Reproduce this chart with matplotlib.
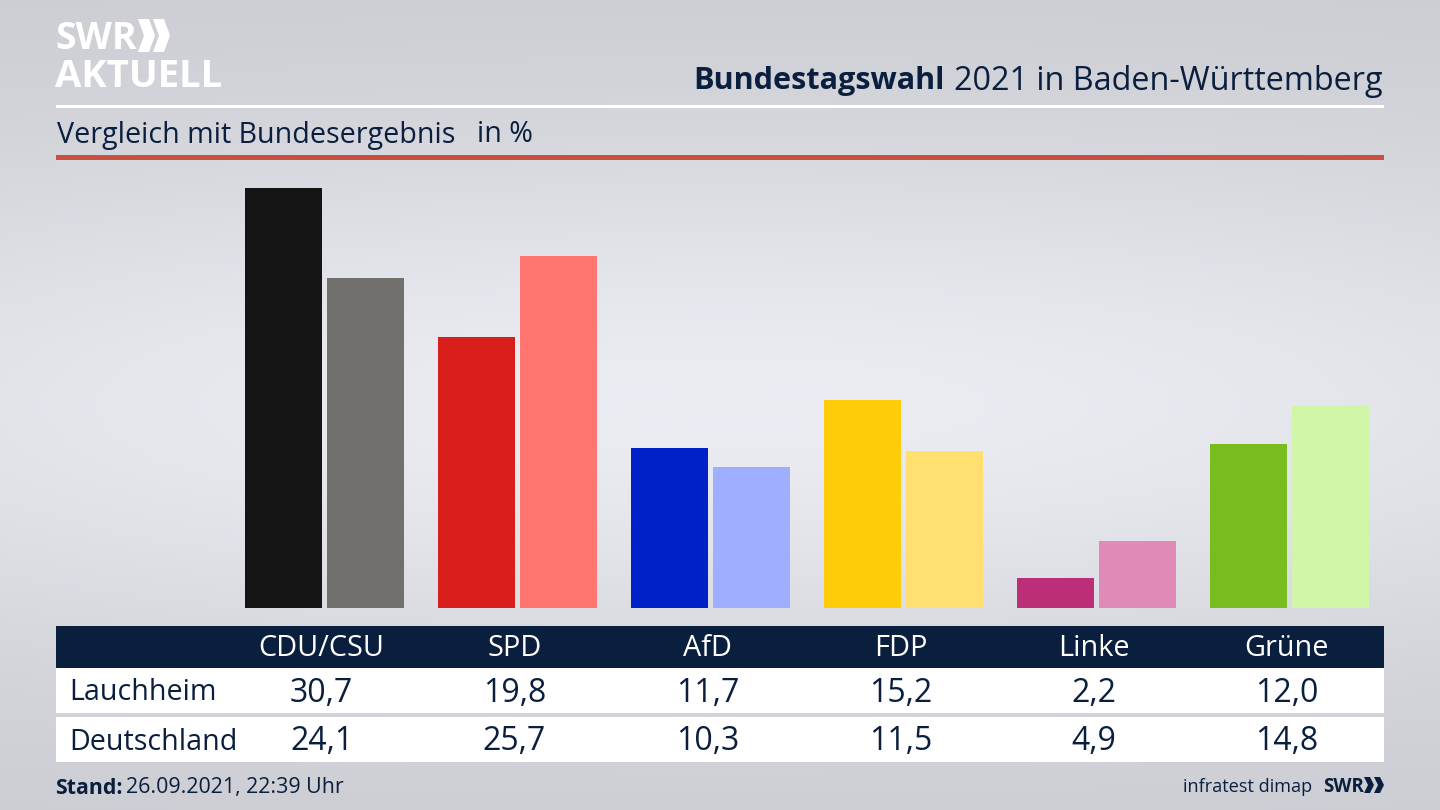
import numpy as np
import matplotlib
matplotlib.use('Agg')
import matplotlib.pyplot as plt
from matplotlib.patches import Rectangle, Polygon

plt.rcParams['font.family'] = ['Open Sans', 'DejaVu Sans']

parties = ['CDU/CSU', 'SPD', 'AfD', 'FDP', 'Linke', 'Grüne']
lauchheim = [30.7, 19.8, 11.7, 15.2, 2.2, 12.0]
deutschland = [24.1, 25.7, 10.3, 11.5, 4.9, 14.8]
colors_lauchheim = ['#141414', '#d91f1c', '#0020c8', '#ffcc0a', '#bd2e78', '#78bc1e']
colors_deutschland = ['#72706d', '#ff7570', '#a0aeff', '#ffdf70', '#e08ab8', '#d2f6a8']
row_names = ['Lauchheim', 'Deutschland']

NAVY = '#0a1f3e'
W, H = 1440, 810


def chevron(ax, x0, y0, y1, arm, depth, color):
    ym = (y0 + y1) / 2
    ax.add_patch(Polygon([(x0, y0), (x0 + arm, y0), (x0 + arm + depth, ym),
                          (x0 + arm, y1), (x0, y1), (x0 + depth, ym)], color=color, lw=0))


fig = plt.figure(figsize=(14.4, 8.1), dpi=100)

# full figure axes in pixel coords, for background, header and table
bg = fig.add_axes([0, 0, 1, 1])

yy, xx = np.mgrid[0:1:200j, 0:1:200j]
glow = np.exp(-((yy - 0.5) / 0.33) ** 2) * (1 - 0.25 * ((xx - 0.5) / 0.5) ** 2)
grad = 0.795 + 0.125 * glow
bg.imshow(np.dstack([grad, grad + 0.006, grad + 0.03]).clip(0, 1), extent=[0, W, H, 0], aspect='auto', zorder=0)
bg.set_xlim(0, W)
bg.set_ylim(H, 0)
bg.axis('off')

# logo
bg.text(55, 39, 'SWR', color='white', fontsize=27, fontweight='bold', va='center', ha='left')
bg.text(55, 77, 'AKTUELL', color='white', fontsize=27.5, fontweight='bold', va='center', ha='left')
chevron(bg, 138, 19, 52, 11, 6, 'white')
chevron(bg, 153, 19, 52, 11, 6, 'white')

# title block
bg.text(1383, 81, '2021 in Baden-Württemberg', color=NAVY, fontsize=23.3, va='center', ha='right')
bg.text(945, 81, 'Bundestagswahl', color=NAVY, fontsize=22.1, fontweight='bold', va='center', ha='right')
bg.add_patch(Rectangle((56, 105), 1328, 2.5, color='white', lw=0))
bg.text(57, 135, 'Vergleich mit Bundesergebnis', color=NAVY, fontsize=20.6, va='center', ha='left')
bg.text(477, 135, 'in %', color=NAVY, fontsize=20.6, va='center', ha='left')
bg.add_patch(Rectangle((56, 155), 1328, 5, color='#c94f3e', lw=0))

# table
bg.add_patch(Rectangle((56, 626), 1328, 42, color=NAVY, lw=0))
bg.add_patch(Rectangle((56, 668), 1328, 45, color='white', lw=0))
bg.add_patch(Rectangle((56, 717), 1328, 45, color='white', lw=0))
bg.text(69.5, 693, row_names[0], color=NAVY, fontsize=20.6, va='center', ha='left')
bg.text(69.5, 742, row_names[1], color=NAVY, fontsize=20.6, va='center', ha='left')
for i, p in enumerate(parties):
    cx = 321.5 + 193 * i
    bg.text(cx, 649, p, color='white', fontsize=20.8, va='center', ha='center')
    bg.text(cx, 693, f'{lauchheim[i]:.1f}'.replace('.', ','), color=NAVY, fontsize=23, va='center', ha='center')
    bg.text(cx, 742, f'{deutschland[i]:.1f}'.replace('.', ','), color=NAVY, fontsize=23, va='center', ha='center')

# footer
bg.text(55, 788, 'Stand:', color=NAVY, fontsize=15.3, fontweight='bold', va='center', ha='left')
bg.text(126, 788, '26.09.2021, 22:39 Uhr', color=NAVY, fontsize=15.4, va='center', ha='left')
bg.text(1312, 787, 'infratest dimap', color=NAVY, fontsize=13.1, va='center', ha='right')
bg.text(1323, 787, 'SWR', color=NAVY, fontsize=13.5, fontweight='bold', va='center', ha='left')
chevron(bg, 1364, 777, 793, 6, 4, NAVY)
chevron(bg, 1374, 777, 793, 6, 4, NAVY)

# bars
px_per_group = 193.0
px_per_unit = 13.68
ax_left, ax_right, ax_top, ax_bottom = 56, 1384, 165, 608
ax = fig.add_axes([ax_left / W, 1 - ax_bottom / H, (ax_right - ax_left) / W, (ax_bottom - ax_top) / H])
ax.patch.set_alpha(0)
ax.axis('off')
x = np.arange(len(parties))
bar_w = 77 / px_per_group
off = 41 / px_per_group
ax.bar(x - off, lauchheim, bar_w, color=colors_lauchheim)
ax.bar(x + off, deutschland, bar_w, color=colors_deutschland)
ax.set_xlim((ax_left - 324.5) / px_per_group, (ax_right - 324.5) / px_per_group)
ax.set_ylim(0, (ax_bottom - ax_top) / px_per_unit)

fig.savefig('out.png', dpi=100)
